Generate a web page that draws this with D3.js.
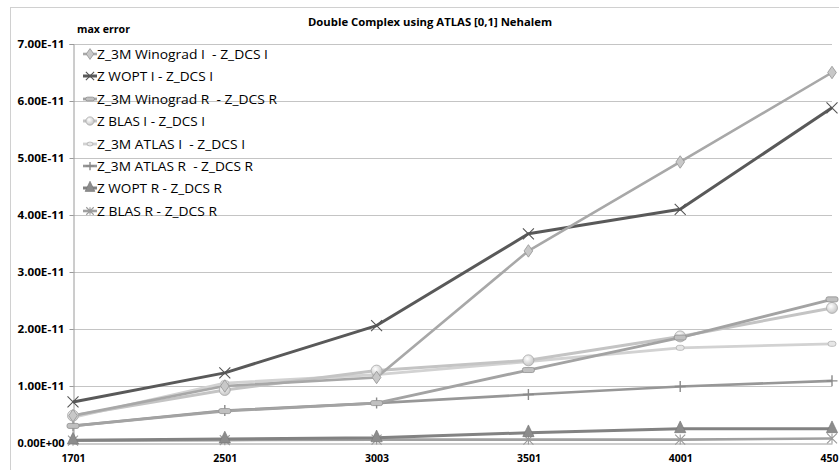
<!DOCTYPE html>
<html><head><meta charset="utf-8">
<script src="https://cdn.jsdelivr.net/npm/d3@7"></script>
<style>html,body{margin:0;padding:0;background:#fff;overflow:hidden} text{white-space:pre}</style>
</head><body>
<svg id="c" width="839" height="470"></svg>
<script>
const categories = ["1701","2501","3003","3501","4001","4501"];
const yTicks = [0,1e-11,2e-11,3e-11,4e-11,5e-11,6e-11,7e-11];
const yTickLabels = ["0.00E+00","1.00E-11","2.00E-11","3.00E-11","4.00E-11","5.00E-11","6.00E-11","7.00E-11"];
const seriesNames = ["Z_3M Winograd I  - Z_DCS I","Z WOPT I - Z_DCS I","Z_3M Winograd R  - Z_DCS R","Z BLAS I - Z_DCS I","Z_3M ATLAS I  - Z_DCS I","Z_3M ATLAS R  - Z_DCS R","Z WOPT R - Z_DCS R","Z BLAS R - Z_DCS R"];
const winogradI = [4.8e-12,1.0e-11,1.15e-11,3.37e-11,4.93e-11,6.5e-11];
const woptI     = [7.2e-12,1.23e-11,2.06e-11,3.67e-11,4.1e-11,5.88e-11];
const winogradR = [3.0e-12,5.6e-12,7.0e-12,1.28e-11,1.85e-11,2.52e-11];
const blasI     = [4.8e-12,9.3e-12,1.27e-11,1.45e-11,1.87e-11,2.37e-11];
const atlasI    = [4.5e-12,1.05e-11,1.2e-11,1.43e-11,1.67e-11,1.74e-11];
const atlasR    = [3.0e-12,5.7e-12,7.0e-12,8.5e-12,9.9e-12,1.09e-11];
const woptR     = [5e-13,7e-13,9e-13,1.8e-12,2.5e-12,2.5e-12];
const blasR     = [4e-13,5e-13,6e-13,6e-13,6e-13,8e-13];
const seriesValues = [winogradI,woptI,winogradR,blasI,atlasI,atlasR,woptR,blasR];
const colors = ["#a8a8a8","#595959","#a3a3a3","#c4c4c4","#d2d2d2","#979797","#828282","#a0a0a0"];
const markers = ["diamond","x","dash","circle","smalldash","plus","triangle","star"];
const lineW = [2.6,3,2.8,3,2.8,2.6,3,2.6];
const legendWidths = [171,116,180,108,148,156,125,120];

const svg = d3.select("#c");
const x = d3.scalePoint().domain(categories).range([73,832]);
const y = d3.scaleLinear().domain([0,7e-11]).range([443,44]);
const FONT = "'Open Sans',sans-serif";

// outer chart border
svg.append("rect").attr("x",10.5).attr("y",7.5).attr("width",900).attr("height",500)
  .attr("fill","none").attr("stroke","#d0d0d0").attr("stroke-width",1);

// gridlines
svg.append("g").selectAll("line").data(yTicks.slice(1)).join("line")
  .attr("x1",73).attr("x2",832).attr("y1",d=>Math.round(y(d))+0.5).attr("y2",d=>Math.round(y(d))+0.5)
  .attr("stroke","#c4c4c4").attr("stroke-width",1);

// y axis
const yAxis = d3.axisLeft(y).tickValues(yTicks).tickSize(4).tickFormat((d,i)=>yTickLabels[i]);
const gy = svg.append("g").attr("transform","translate(73.5,0)").call(yAxis);
gy.select(".domain").attr("stroke","#9a9a9a");
gy.selectAll(".tick line").attr("stroke","#9a9a9a");
gy.selectAll(".tick text").attr("x",-9).attr("font-family",FONT).attr("font-weight","bold").attr("font-size","10.5px").attr("fill","#000")
  .attr("textLength",47).attr("lengthAdjust","spacingAndGlyphs");

// x axis
const xAxis = d3.axisBottom(x).tickSize(0).tickPadding(11);
const gx = svg.append("g").attr("transform","translate(0,443.5)").call(xAxis);
gx.select(".domain").attr("stroke","#9a9a9a");
gx.selectAll(".tick text").attr("font-family",FONT).attr("font-weight","bold").attr("font-size","10.5px").attr("fill","#000")
  .attr("textLength",24).attr("lengthAdjust","spacingAndGlyphs");

// title and axis title
svg.append("text").attr("x",308).attr("y",26).attr("font-family",FONT).attr("font-weight","bold")
  .attr("font-size","10.8px").attr("textLength",244).attr("lengthAdjust","spacingAndGlyphs").text("Double Complex using ATLAS [0,1] Nehalem");
svg.append("text").attr("x",77).attr("y",33).attr("font-family",FONT).attr("font-weight","bold")
  .attr("font-size","10.8px").attr("textLength",53).attr("lengthAdjust","spacingAndGlyphs").text("max error");

function drawMarker(g, type, cx, cy, color, s) {
  const k = s || 1;
  if (type==="diamond") {
    g.append("path").attr("d",d3.symbol(d3.symbolDiamond, 45*k)()).attr("transform",`translate(${cx},${cy}) scale(1.2,1)`)
      .attr("fill","#c8c8c8").attr("stroke","#9a9a9a").attr("stroke-width",0.8);
  } else if (type==="x") {
    const r=5.5*k;
    g.append("path").attr("d",`M${cx-r},${cy-r}L${cx+r},${cy+r}M${cx-r},${cy+r}L${cx+r},${cy-r}`).attr("stroke","#555").attr("stroke-width",1.1);
  } else if (type==="dash") {
    g.append("rect").attr("x",cx-6*k).attr("y",cy-2.5*k).attr("width",12*k).attr("height",5*k).attr("rx",2)
      .attr("fill","#c0c0c0").attr("stroke","#8f8f8f").attr("stroke-width",0.8);
  } else if (type==="circle") {
    g.append("circle").attr("cx",cx).attr("cy",cy).attr("r",5.5*k).attr("fill","url(#cg)").attr("stroke","#a8a8a8").attr("stroke-width",0.8);
  } else if (type==="smalldash") {
    g.append("rect").attr("x",cx-4*k).attr("y",cy-2.5*k).attr("width",8*k).attr("height",5*k).attr("rx",2.5)
      .attr("fill","#e6e6e6").attr("stroke","#b0b0b0").attr("stroke-width",0.8);
  } else if (type==="plus") {
    const r=5.5*k;
    g.append("path").attr("d",`M${cx-r},${cy}L${cx+r},${cy}M${cx},${cy-r}L${cx},${cy+r}`).attr("stroke","#8a8a8a").attr("stroke-width",1.4);
  } else if (type==="triangle") {
    g.append("path").attr("d",d3.symbol(d3.symbolTriangle, 55*k)()).attr("transform",`translate(${cx},${cy}) scale(1,1.2)`)
      .attr("fill","#8c8c8c").attr("stroke","#777").attr("stroke-width",0.6);
  } else if (type==="star") {
    const r=5*k;
    g.append("path").attr("d",`M${cx-r},${cy-r}L${cx+r},${cy+r}M${cx-r},${cy+r}L${cx+r},${cy-r}M${cx},${cy-r}L${cx},${cy+r}`).attr("stroke","#9a9a9a").attr("stroke-width",1.1);
  }
}

const defs = svg.append("defs");
const rg = defs.append("radialGradient").attr("id","cg").attr("cx","40%").attr("cy","35%").attr("r","65%");
rg.append("stop").attr("offset","0%").attr("stop-color","#ffffff");
rg.append("stop").attr("offset","100%").attr("stop-color","#c6c6c6");

const line = d3.line().x((d,i)=>x(categories[i])).y(d=>y(d));
const order = [7,6,5,4,3,2,1,0];
const plot = svg.append("g");
order.forEach(si=>{
  plot.append("path").attr("d",line(seriesValues[si])).attr("fill","none").attr("stroke",colors[si])
    .attr("stroke-width",lineW[si]).attr("stroke-linejoin","round");
});
order.forEach(si=>{
  const g = plot.append("g");
  seriesValues[si].forEach((v,i)=>drawMarker(g, markers[si], x(categories[i]), y(v), colors[si]));
});

// legend
const lg = svg.append("g");
const rowY = [54,76,99,121,144,166,188,211];
seriesNames.forEach((name,i)=>{
  const cy = rowY[i];
  lg.append("line").attr("x1",83).attr("x2",97).attr("y1",cy).attr("y2",cy).attr("stroke",colors[i]).attr("stroke-width",lineW[i]);
  drawMarker(lg, markers[i], 90, cy, colors[i], 0.75);
  lg.append("text").attr("x",97).attr("y",cy+5).attr("font-family",FONT).attr("font-size","13px")
    .attr("fill","#000").attr("textLength",legendWidths[i]).attr("lengthAdjust","spacingAndGlyphs").text(name);
});
</script>
</body></html>
